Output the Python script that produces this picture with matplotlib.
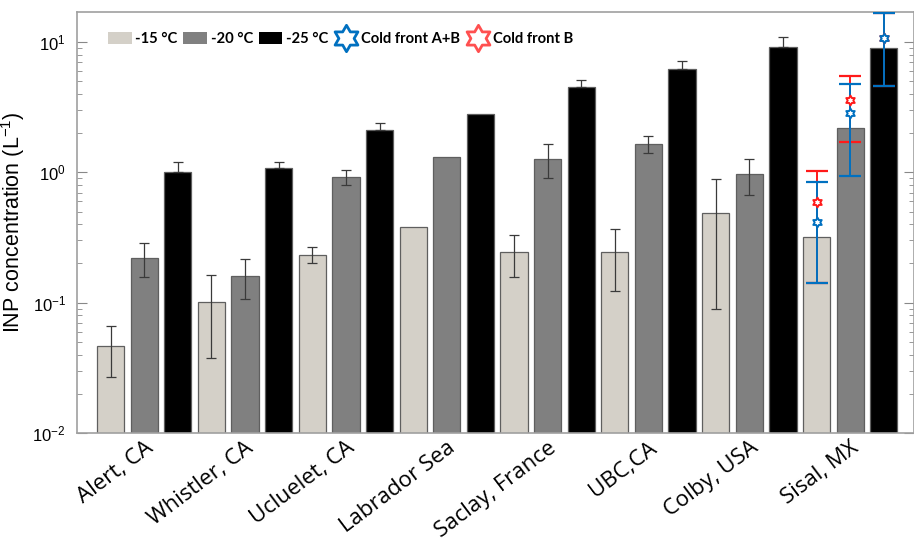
import numpy as np
import matplotlib
matplotlib.use("Agg")
import matplotlib.pyplot as plt
from matplotlib.patches import Patch
from matplotlib.lines import Line2D
from matplotlib.path import Path

plt.rcParams['font.family'] = ['Liberation Sans', 'DejaVu Sans']
plt.rcParams['mathtext.default'] = 'regular'

sites = ["Alert, CA", "Whistler, CA", "Ucluelet, CA", "Labrador Sea",
         "Saclay, France", "UBC,CA", "Colby, USA", "Sisal, MX"]
temps = ["-15 °C", "-20 °C", "-25 °C"]

inp_m15 = [0.0466, 0.102, 0.234, 0.383, 0.245, 0.245, 0.488, 0.321]
inp_m20 = [0.221, 0.160, 0.927, 1.31, 1.27, 1.66, 0.967, 2.18]
inp_m25 = [1.00, 1.08, 2.13, 2.82, 4.52, 6.25, 9.13, 9.06]

nan = np.nan
m15_lo = [0.0267, 0.0376, 0.200, nan, 0.157, 0.123, 0.0895, nan]
m15_hi = [0.0662, 0.164, 0.268, nan, 0.333, 0.366, 0.885, nan]
m20_lo = [0.157, 0.106, 0.80, nan, 0.90, 1.40, 0.671, nan]
m20_hi = [0.288, 0.215, 1.05, nan, 1.65, 1.91, 1.27, nan]
m25_hi = [1.197, 1.20, 2.38, nan, 5.09, 7.16, 10.99, nan]

# Sisal cold-front points at -15, -20, -25 °C
cf_ab = [0.414, 2.84, 10.7]
cf_ab_lo = [0.142, 0.938, 4.6]
cf_ab_hi = [0.839, 4.75, 16.6]
cf_b = [0.589, 3.59, 10.7]
cf_b_lo = [0.142, 1.72, 4.6]
cf_b_hi = [1.03, 5.49, 16.6]

colors = ['#d4d0c8', '#808080', '#000000']
blue = '#0070c0'
red = '#ff1a1a'

# hexagram (six-pointed star) marker
ang = np.pi / 2 + np.arange(12) * np.pi / 6
rad = np.where(np.arange(12) % 2 == 0, 1.0, 0.577)
hverts = np.column_stack([rad * np.cos(ang), rad * np.sin(ang)])
hverts = np.vstack([hverts, hverts[:1]])
hexagram = Path(hverts, closed=True)

fig = plt.figure(figsize=(9.14, 5.40), dpi=100)
ax = fig.add_axes([77/914, 1-433/540, 837/914, (433-12)/540])

x = np.arange(len(sites)) * 3
width = 0.81
series = [inp_m15, inp_m20, inp_m25]
for k, vals in enumerate(series):
    ax.bar(x + (k - 1), vals, width, color=colors[k], edgecolor='#5f5f5f',
           linewidth=0.9, zorder=2)

def draw_err(xp, v, lo, hi):
    v = np.asarray(v, float); lo = np.asarray(lo, float); hi = np.asarray(hi, float)
    m = ~np.isnan(hi)
    ax.errorbar(xp[m], v[m], yerr=[v[m] - lo[m], hi[m] - v[m]], fmt='none',
                ecolor='#3a3a3a', elinewidth=0.9, capsize=3.5, capthick=0.9, zorder=3)

draw_err(x - 1, inp_m15, m15_lo, m15_hi)
draw_err(x, inp_m20, m20_lo, m20_hi)
v25 = np.asarray(inp_m25, float)
draw_err(x + 1, inp_m25, v25, m25_hi)

xs = x[-1] + np.array([-1, 0, 1])
cb = np.asarray(cf_b); ca = np.asarray(cf_ab)
ax.errorbar(xs, cb, yerr=[cb - np.asarray(cf_b_lo), np.asarray(cf_b_hi) - cb],
            fmt='none', ecolor=red, elinewidth=1.4, capsize=8, capthick=1.6, zorder=4)
ax.errorbar(xs, ca, yerr=[ca - np.asarray(cf_ab_lo), np.asarray(cf_ab_hi) - ca],
            fmt='none', ecolor=blue, elinewidth=1.4, capsize=8, capthick=1.6, zorder=5)
ax.plot(xs, cb, linestyle='none', marker=hexagram, markersize=7, markerfacecolor='white',
        markeredgecolor=red, markeredgewidth=1.4, zorder=6)
ax.plot(xs, ca, linestyle='none', marker=hexagram, markersize=7, markerfacecolor='white',
        markeredgecolor=blue, markeredgewidth=1.4, zorder=7)

ax.set_yscale('log')
ax.set_ylim(0.01, 17.0)
ax.set_xlim(-2.0, 22.9)
ax.set_xticks(x)
ax.set_xticklabels(sites, rotation=37, ha='right', va='top', rotation_mode='anchor',
                   fontsize=16, family=['Open Sans', 'DejaVu Sans'])
ax.tick_params(axis='x', length=0, pad=3)
ax.tick_params(axis='y', which='major', direction='in', length=7, color='#888888',
               labelsize=12, pad=8, right=True)
ax.tick_params(axis='y', which='minor', direction='in', length=3.5, color='#888888',
               right=True)
ax.set_yticks([0.01, 0.1, 1, 10])
for s in ax.spines.values():
    s.set_color('#a0a0a0')
    s.set_linewidth(1.2)
ax.set_ylabel('INP concentration (L$^{-1}$)', fontsize=15.5, labelpad=4)

handles = [Patch(facecolor=colors[0], edgecolor='none'),
           Patch(facecolor=colors[1], edgecolor='none'),
           Patch(facecolor=colors[2], edgecolor='none'),
           Line2D([], [], linestyle='none', marker=hexagram, markersize=19,
                  markerfacecolor='none', markeredgecolor=blue, markeredgewidth=2),
           Line2D([], [], linestyle='none', marker=hexagram, markersize=19,
                  markerfacecolor='none', markeredgecolor='#ff5050', markeredgewidth=2)]
labels = temps + ['Cold front A+B', 'Cold front B']
ax.legend(handles, labels, loc='center left', bbox_to_anchor=(0.037, 0.935), ncol=5,
          frameon=False, handlelength=1.6, handleheight=0.9, handletextpad=0.25,
          columnspacing=0.4, prop={'family': ['Lato', 'DejaVu Sans'], 'weight': 'bold', 'size': 10.6},
          borderaxespad=0, borderpad=0)

fig.savefig('out.png', dpi=100)
